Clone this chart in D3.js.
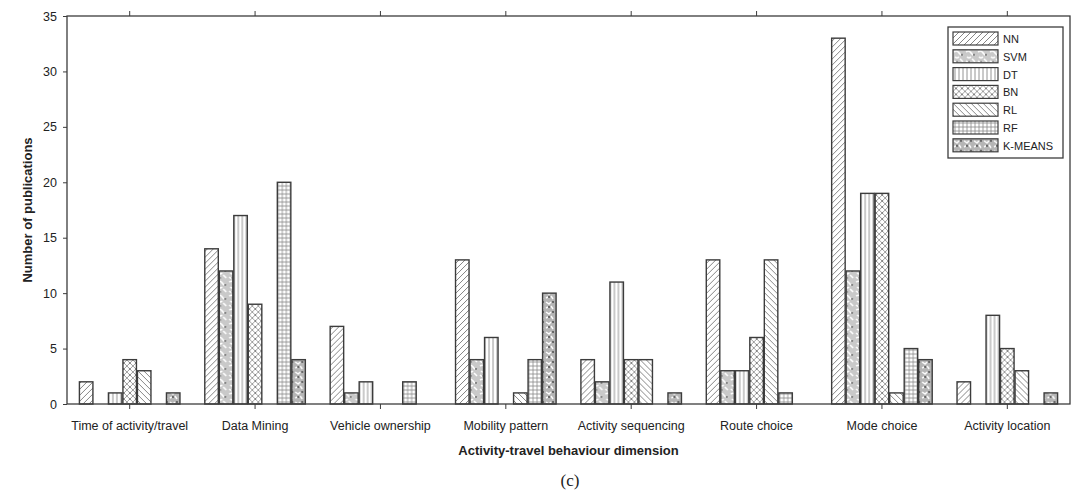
<!DOCTYPE html>
<html>
<head>
<meta charset="utf-8">
<script src="https://cdn.jsdelivr.net/npm/d3@7"></script>
<style>
  body { margin: 0; background: #fff; }
  text { font-family: "Liberation Sans", Arial, sans-serif; fill: #222; }
</style>
</head>
<body>
<div id="chart"></div>
<script>
  let categories = ['Time of activity/travel', 'Data Mining', 'Vehicle ownership', 'Mobility pattern',
    'Activity sequencing', 'Route choice', 'Mode choice', 'Activity location'];
  let methods = ['NN', 'SVM', 'DT', 'BN', 'RL', 'RF', 'K-MEANS'];

  // publications per method, one array per method, in category order
  let nn = [2, 14, 7, 13, 4, 13, 33, 2];
  let svm = [0, 12, 1, 4, 2, 3, 12, 0];
  let dt = [1, 17, 2, 6, 11, 3, 19, 8];
  let bn = [4, 9, 0, 0, 4, 6, 19, 5];
  let rl = [3, 0, 0, 1, 4, 13, 1, 3];
  let rf = [0, 20, 2, 4, 0, 1, 5, 0];
  let kmeans = [1, 4, 0, 10, 1, 0, 4, 1];
  let yTicks = [0, 5, 10, 15, 20, 25, 30, 35];

  let seriesValues = [nn, svm, dt, bn, rl, rf, kmeans];

  let width = 1074;
  let height = 491;
  let margin = {top: 16, right: 4, bottom: 87, left: 67};
  let ink = '#3c3c3c';

  let svg = d3.select('#chart')
  .append('svg')
  .attr('width', width)
  .attr('height', height);

  let defs = svg.append('defs');

  // hatch patterns, one per method
  function makePattern(id, w, h, draw){
    let p = defs.append('pattern')
    .attr('id', id)
    .attr('patternUnits', 'userSpaceOnUse')
    .attr('width', w)
    .attr('height', h);
    p.append('rect').attr('width', w).attr('height', h).attr('fill', '#fff');
    draw(p);
  }
  function line(p, d, sw, col){
    p.append('path').attr('d', d).attr('stroke', col || '#777').attr('stroke-width', sw || 0.9).attr('fill', 'none');
  }

  makePattern('pat-NN', 6, 6, (p) => line(p, 'M0,6 L6,0 M-1,1 L1,-1 M5,7 L7,5'));
  makePattern('pat-SVM', 12, 14, (p) => {
    p.append('rect').attr('width', 12).attr('height', 14).attr('fill', '#c9c9c9');
    p.append('path').attr('d', 'M1,2 q3,-2 5,1 t4,2 M2,7 q2,2 4,0 M7,9 l3,3 M1,11 q2,2 3,1')
    .attr('stroke', '#fff').attr('stroke-width', 1.6).attr('fill', 'none');
    p.append('circle').attr('cx', 9).attr('cy', 5).attr('r', 0.9).attr('fill', '#555');
    p.append('circle').attr('cx', 4).attr('cy', 12).attr('r', 0.8).attr('fill', '#555');
  });
  makePattern('pat-DT', 4, 4, (p) => line(p, 'M2,0 L2,4', 0.9, '#888'));
  makePattern('pat-BN', 6, 6, (p) => {
    line(p, 'M0,0 L6,6 M6,0 L0,6', 0.8, '#888');
    p.append('circle').attr('cx', 3).attr('cy', 3).attr('r', 0.8).attr('fill', '#666');
  });
  makePattern('pat-RL', 6, 6, (p) => line(p, 'M0,0 L6,6 M-1,5 L1,7 M5,-1 L7,1', 1, '#888'));
  makePattern('pat-RF', 4, 4, (p) => line(p, 'M0,2 L4,2 M2,0 L2,4', 0.8, '#888'));
  makePattern('pat-K-MEANS', 10, 10, (p) => {
    p.append('rect').attr('width', 10).attr('height', 10).attr('fill', '#b5b5b5');
    p.append('path').attr('d', 'M1,2 l3,2 l2,-2 M6,6 l2,3 M1,8 l2,-1')
    .attr('stroke', '#fff').attr('stroke-width', 1.4).attr('fill', 'none');
    p.append('circle').attr('cx', 8).attr('cy', 2).attr('r', 0.9).attr('fill', '#444');
    p.append('circle').attr('cx', 4).attr('cy', 7).attr('r', 0.9).attr('fill', '#444');
  });

  let x0 = d3.scaleBand()
  .domain(categories)
  .range([margin.left, width - margin.right])
  .paddingInner(0.19)
  .paddingOuter(0.095);

  let x1 = d3.scaleBand()
  .domain(methods)
  .range([0, x0.bandwidth()]);

  let y = d3.scaleLinear()
  .domain([0, 35])
  .range([height - margin.bottom, margin.top]);

  let plotL = margin.left;
  let plotR = width - margin.right;
  let plotB = height - margin.bottom;
  let plotT = margin.top;

  // bars
  let groups = svg.selectAll('.group')
  .data(categories)
  .enter().append('g')
  .attr('class', 'group')
  .attr('transform', (d) => `translate(${x0(d)},0)`);

  groups.selectAll('rect')
  .data((c, ci) => methods.map((m, mi) => ({method: m, value: seriesValues[mi][ci]})))
  .enter().filter((d) => d.value > 0).append('rect')
  .attr('x', (d) => x1(d.method) + 0.5)
  .attr('y', (d) => y(d.value))
  .attr('width', x1.bandwidth() - 1)
  .attr('height', (d) => y(0) - y(d.value))
  .attr('fill', (d) => `url(#pat-${d.method})`)
  .attr('stroke', ink)
  .attr('stroke-width', 1.4);

  // axes box
  svg.append('rect')
  .attr('x', plotL)
  .attr('y', plotT)
  .attr('width', plotR - plotL)
  .attr('height', plotB - plotT)
  .attr('fill', 'none')
  .attr('stroke', ink)
  .attr('stroke-width', 1.3);

  let xAxis = svg.append('g')
  .attr('transform', `translate(0,${plotB})`)
  .call(d3.axisBottom(x0).tickSize(5).tickSizeOuter(0).tickPadding(12));
  xAxis.select('.domain').remove();
  xAxis.selectAll('line').attr('stroke', ink);
  xAxis.selectAll('text').style('font-size', '12.5px').attr('fill', '#222');

  let xTop = svg.append('g')
  .attr('transform', `translate(0,${plotT})`)
  .call(d3.axisTop(x0).tickSize(5).tickSizeOuter(0).tickFormat(''));
  xTop.select('.domain').remove();
  xTop.selectAll('line').attr('stroke', ink);

  let yAxis = svg.append('g')
  .attr('transform', `translate(${plotL},0)`)
  .call(d3.axisLeft(y).tickValues(yTicks).tickSize(4).tickSizeOuter(0).tickPadding(6));
  yAxis.select('.domain').remove();
  yAxis.selectAll('line').attr('stroke', ink);
  yAxis.selectAll('text').style('font-size', '12.5px').attr('fill', '#222');

  // titles
  svg.append('text')
  .attr('x', (plotL + plotR) / 2)
  .attr('y', 455)
  .attr('text-anchor', 'middle')
  .style('font-size', '13px')
  .style('font-weight', 'bold')
  .text('Activity-travel behaviour dimension');

  svg.append('text')
  .attr('transform', `translate(32,${(plotT + plotB) / 2}) rotate(-90)`)
  .attr('text-anchor', 'middle')
  .style('font-size', '13px')
  .style('font-weight', 'bold')
  .text('Number of publications');

  svg.append('text')
  .attr('x', 570)
  .attr('y', 486)
  .attr('text-anchor', 'middle')
  .style('font-family', '"Liberation Serif", "DejaVu Serif", serif')
  .style('font-size', '17px')
  .text('(c)');

  // legend
  let legend = svg.append('g').attr('transform', 'translate(948,27)');
  legend.append('rect')
  .attr('width', 115)
  .attr('height', 131)
  .attr('fill', '#fff')
  .attr('stroke', ink)
  .attr('stroke-width', 1.3);

  let items = legend.selectAll('.item')
  .data(methods)
  .enter().append('g')
  .attr('class', 'item')
  .attr('transform', (d, i) => `translate(5,${5 + i * 17.8})`);

  items.append('rect')
  .attr('width', 45)
  .attr('height', 13)
  .attr('fill', (d) => `url(#pat-${d})`)
  .attr('stroke', ink)
  .attr('stroke-width', 1.2);

  items.append('text')
  .attr('x', 50)
  .attr('y', 11)
  .style('font-size', '11px')
  .text((d) => d);
</script>
</body>
</html>
